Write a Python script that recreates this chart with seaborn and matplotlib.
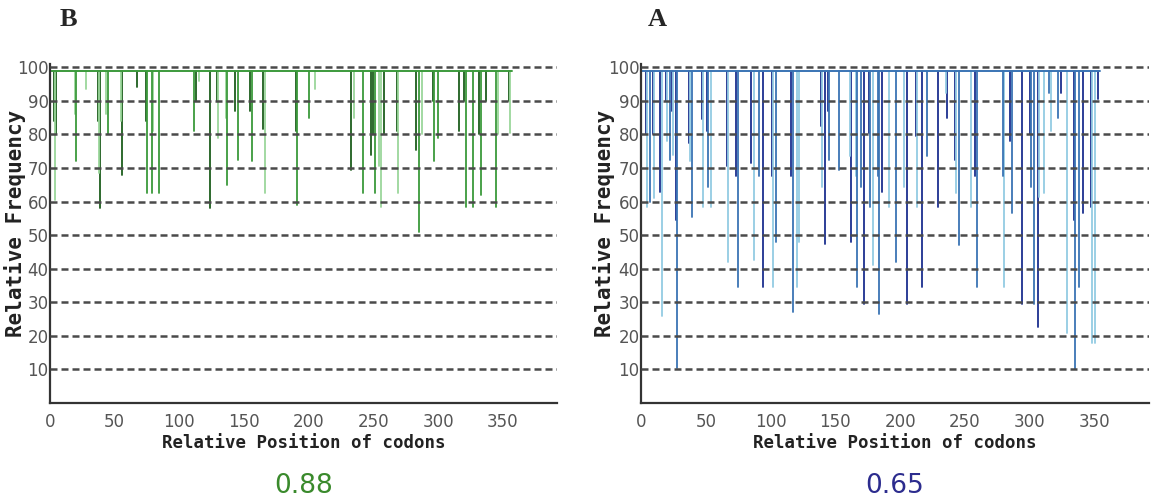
import matplotlib
matplotlib.use("Agg")
import matplotlib.pyplot as plt
import seaborn as sns
import pandas as pd

sns.set_style("white")
plt.rcParams['font.family'] = ['DejaVu Sans']

# codon adaptation plots: value of every codon is ~99 except the dips below
baseline = 99
left_end = 357
right_end = 354

# panel B (green), CAI 0.88
b_pos = [3, 4, 5, 19, 20, 28, 37, 38, 39, 43, 45, 55, 56, 67, 74, 75, 79, 80, 84,
         111, 113, 115, 124, 129, 130, 136, 137, 143, 145, 155, 156, 165, 166,
         190, 191, 200, 205, 233, 235, 242, 248, 250, 251, 254, 256, 258, 268, 269,
         283, 285, 288, 296, 297, 300, 316, 320, 322, 327, 332, 333, 337, 345, 346,
         355, 356]
b_val = [84, 60.5, 80, 86, 72, 93.5, 84, 68.5, 58, 86, 80, 84, 68, 94, 84, 62.5, 62.5, 81, 62.5,
         81, 90, 96, 58, 90, 79, 85, 65, 87, 72.5, 87, 72, 81.5, 62.5,
         81, 59, 85, 93.5, 69.5, 85, 62.5, 74, 80, 62.5, 70.5, 58.5, 80, 81, 62.5,
         75.5, 51, 80, 90, 72, 79, 81, 90, 58.5, 58.5, 80, 62, 90, 58.5, 80,
         90, 80.5]
b_shade = ['d', 'l', 'd', 'l', 'm', 'l', 'd', 'l', 'd', 'l', 'm', 'l', 'd', 'd', 'd', 'm', 'm', 'l', 'm',
           'm', 'd', 'l', 'd', 'd', 'l', 'l', 'm', 'd', 'm', 'd', 'm', 'd', 'l',
           'd', 'm', 'm', 'l', 'd', 'l', 'm', 'd', 'd', 'm', 'l', 'l', 'd', 'd', 'l',
           'd', 'm', 'l', 'd', 'm', 'm', 'd', 'd', 'm', 'm', 'd', 'm', 'd', 'm', 'l',
           'd', 'l']

# panel A (blue), CAI 0.65
a_pos = [4, 5, 7, 9, 10, 15, 16, 19, 20, 22, 24, 25, 27, 28, 37, 38, 39, 47, 48, 51, 52, 54,
         66, 67, 73, 75, 85, 87, 91, 94, 101, 102, 104, 116, 117, 120, 122,
         139, 140, 142, 144, 145, 153, 161, 162, 166, 167, 170, 172, 176, 177, 179,
         183, 184, 186, 191, 197, 203, 205, 212, 213, 217, 221, 229, 235, 236,
         242, 243, 245, 255, 258, 259, 279, 280, 285, 286, 294, 300, 301, 303, 306,
         307, 311, 315, 316, 322, 324, 329, 334, 335, 338, 341, 347, 348, 350, 353]
a_val = [80, 58.5, 60, 80, 61, 63, 26, 90, 78, 72.5, 87, 74, 54.5, 10.5, 77.5, 72, 55.5, 84.5, 58.5, 81, 64.5, 58.5,
         70.5, 42, 67.5, 34.5, 71.5, 42.5, 67.5, 34.5, 67.5, 34.5, 48, 67.5, 27, 34.5, 48,
         82.5, 64.5, 47.5, 87, 72.5, 69.5, 73.5, 48, 67.5, 34.5, 64.5, 29.5, 80.5, 58.5, 41,
         67.5, 26.5, 63, 58.5, 42, 64.5, 29.5, 79.5, 58.5, 34.5, 73.5, 58.5, 92.5, 85,
         72.5, 62.5, 47, 58.5, 67.5, 34.5, 67.5, 34.5, 78, 56.5, 29.5, 80, 64.5, 29.5, 22.5,
         61.5, 62.5, 92.5, 81, 85, 92.5, 21, 54.5, 10, 34.5, 56.5, 58.5, 18, 18, 90.5]
a_shade = ['d', 'l', 'm', 'd', 'l', 'd', 'l', 'd', 'l', 'm', 'd', 'l', 'd', 'm', 'd', 'l', 'm', 'd', 'l', 'd', 'm', 'l',
           'd', 'l', 'd', 'm', 'd', 'l', 'm', 'd', 'd', 'l', 'm', 'd', 'm', 'l', 'l',
           'd', 'l', 'd', 'd', 'm', 'm', 'l', 'd', 'l', 'm', 'm', 'd', 'd', 'm', 'l',
           'm', 'm', 'd', 'l', 'm', 'l', 'd', 'd', 'l', 'd', 'm', 'd', 'l', 'd',
           'd', 'l', 'm', 'l', 'd', 'm', 'm', 'l', 'd', 'm', 'd', 'd', 'm', 'm', 'd',
           'l', 'l', 'm', 'l', 'm', 'd', 'l', 'd', 'm', 'm', 'd', 'd', 'l', 'l', 'd']

y_ticks = [10, 20, 30, 40, 50, 60, 70, 80, 90, 100]
x_ticks = [0, 50, 100, 150, 200, 250, 300, 350]

green_pal = {'d': '#1d5e1d', 'm': '#3c9a3c', 'l': '#9bd79b'}
blue_pal = {'d': '#1b2f8f', 'm': '#3a74b4', 'l': '#93cbe3'}


def dips_frame(pos, val, shade):
    rows = []
    for i, (p, v, s) in enumerate(zip(pos, val, shade)):
        rows.append({'pos': p, 'freq': baseline, 'dip': i, 'shade': s})
        rows.append({'pos': p, 'freq': v, 'dip': i, 'shade': s})
    return pd.DataFrame(rows)


W, H = 1154, 499
fig = plt.figure(figsize=(W / 100, H / 100), dpi=100)
ax_b = fig.add_axes([50 / W, (H - 403) / H, 507 / W, 339 / H])
ax_a = fig.add_axes([641 / W, (H - 403) / H, 508 / W, 339 / H])

panels = [(ax_b, b_pos, b_val, b_shade, green_pal, left_end, '0.88', '#3a8a2c', -0.047),
          (ax_a, a_pos, a_val, a_shade, blue_pal, right_end, '0.65', '#2c2c8e', -0.051)]

for ax, pos, val, shade, pal, end, cai, cai_col, ylab_x in panels:
    df = dips_frame(pos, val, shade)
    sns.lineplot(data=df, x='pos', y='freq', hue='shade', units='dip', estimator=None,
                 palette=pal, legend=False, sort=False, lw=1.3, ax=ax, zorder=2)
    sns.lineplot(x=[1, end], y=[baseline, baseline], color=pal['m'], lw=1.4, ax=ax, zorder=2)

    for t in y_ticks:
        ax.axhline(t, color='#4a4a4a', lw=1.8, ls=(0, (2.8, 1.6)), zorder=3)

    ax.set_xlim(0, 392)
    ax.set_ylim(0, 101)
    ax.set_xticks(x_ticks)
    ax.set_yticks(y_ticks)
    ax.tick_params(axis='both', direction='in', length=3, width=1, colors='#555',
                   labelsize=12)
    ax.tick_params(axis='x', pad=7)
    ax.tick_params(axis='y', pad=1)
    for side in ['top', 'right']:
        ax.spines[side].set_visible(False)
    for side in ['left', 'bottom']:
        ax.spines[side].set_color('#333')
        ax.spines[side].set_linewidth(1.6)

    ax.set_xlabel('Relative Position of codons', fontsize=12.5, fontweight='bold', color='#222',
                  family=['DejaVu Sans Mono'])
    ax.xaxis.set_label_coords(0.5, -0.09)
    ax.set_ylabel('Relative Frequency', fontsize=15, fontweight='bold', color='#222',
                  family=['DejaVu Sans Mono'])
    ax.yaxis.set_label_coords(ylab_x, 0.53)

    ax.text(0.5, -0.245, cai, transform=ax.transAxes, ha='center', va='center',
            fontsize=19, color=cai_col)

fig.text(68 / W, 1 - 20 / H, 'B', ha='center', va='center', fontsize=19, fontweight='bold',
         family=['Liberation Serif'])
fig.text(657 / W, 1 - 20 / H, 'A', ha='center', va='center', fontsize=19, fontweight='bold',
         family=['Liberation Serif'])

fig.savefig('out.png', dpi=100)
